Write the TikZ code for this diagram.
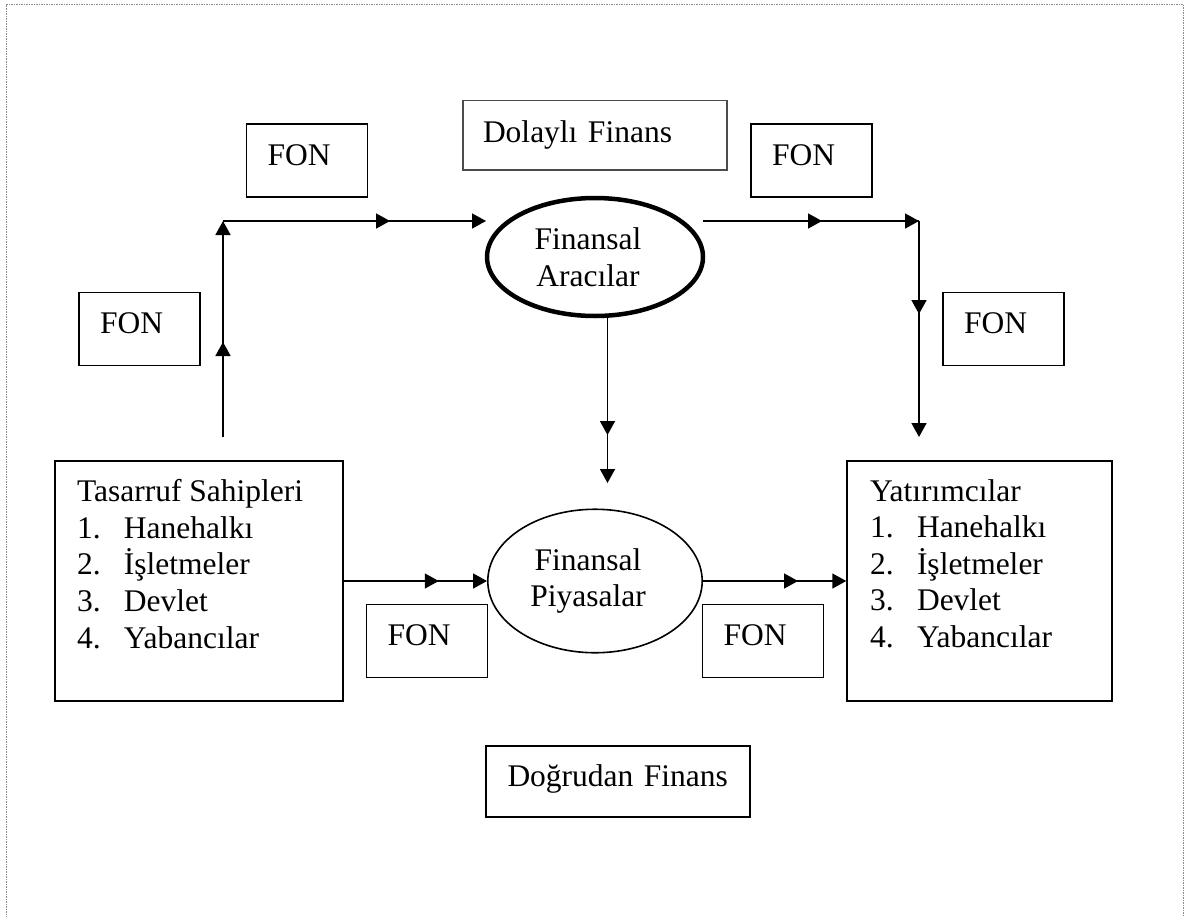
\documentclass[tikz,border=0pt]{standalone}
\usepackage{fontspec}
\setmainfont{Liberation Serif}
\usetikzlibrary{shapes.geometric,arrows.meta,decorations.markings}
\newcommand\fsz{\fontsize{31.5pt}{36.6pt}\selectfont}
\begin{document}
\begin{tikzpicture}[x=1pt,y=-1pt,
  tip/.style={Triangle[length=14pt,width=15pt]},
  conn/.style={line width=1.6pt,-{Triangle[length=14pt,width=15pt]}},
  midarrow/.style={postaction={decorate,decoration={markings,
      mark=at position #1 with {\arrow{Triangle[length=14pt,width=15pt]}}}}},
  fonbox/.style={draw,line width=1.5pt,minimum height=73pt,text width=79pt,
      inner xsep=21pt,inner ysep=0pt,align=left,text height=21pt,text depth=12pt,font=\fsz},
  titlebox/.style={draw,inner ysep=0pt,align=left,text height=21pt,font=\fsz},
  listbox/.style={draw,line width=1.5pt,inner ysep=0pt,font=\fsz},
  ovalnode/.style={ellipse,draw,inner sep=0pt,align=center,font=\fsz},
  border/.style={draw=black!45,line width=1pt,dash pattern=on 1.5pt off 1pt}]
\useasboundingbox (0,0) rectangle (1194,916);
% outer dotted frame
\draw[border] (6.7,920) -- (6.7,4.7) -- (1183.7,4.7) -- (1183.7,920);

% titles
\node[titlebox,draw=black!70,line width=1.2pt,minimum height=69.3pt,text width=224pt,
      inner xsep=20pt,text depth=7.8pt] (dolayli) at (595,135.4) {Dolaylı Finans};
\node[titlebox,line width=1.5pt,minimum height=71pt,text width=221pt,
      inner xsep=21.5pt,text depth=10.6pt] (dogrudan) at (618,781.5) {Doğrudan Finans};

% FON boxes
\node[fonbox] (fon1) at (307,160.5) {FON};
\node[fonbox] (fon2) at (139.5,329) {FON};
\node[fonbox] (fon3) at (811.5,160.5) {FON};
\node[fonbox] (fon4) at (1003.5,329) {FON};
\node[fonbox] (fon5) at (427,641) {FON};
\node[fonbox] (fon6) at (763,641) {FON};

% ellipses
\node[ovalnode,line width=4.5pt,minimum width=216pt,minimum height=118pt] (ara) at (595,257)
  {Finansal\hspace*{14pt}\\Aracılar\hspace*{14pt}};
\node[ovalnode,line width=1.6pt,minimum width=214.4pt,minimum height=143.5pt] (piy) at (595,581)
  {Finansal\hspace*{14pt}\\Piyasalar\hspace*{14pt}};

% list boxes
\node[listbox,inner xsep=22pt] (tas) at (199,581) {%
  \begin{minipage}[c][240pt][t]{244pt}\raggedright
  \rule{0pt}{40.7pt}Tasarruf Sahipleri\\
  \makebox[47pt][l]{1.}Hanehalkı\\
  \makebox[47pt][l]{2.}İşletmeler\\
  \makebox[47pt][l]{3.}Devlet\\
  \makebox[47pt][l]{4.}Yabancılar
  \end{minipage}};
\node[listbox,inner xsep=23pt] (yat) at (979.5,581) {%
  \begin{minipage}[c][240pt][t]{219pt}\raggedright
  \rule{0pt}{40pt}Yatırımcılar\\
  \makebox[47pt][l]{1.}Hanehalkı\\
  \makebox[47pt][l]{2.}İşletmeler\\
  \makebox[47pt][l]{3.}Devlet\\
  \makebox[47pt][l]{4.}Yabancılar
  \end{minipage}};

% connector points
\coordinate (ls) at (223,437);
\coordinate (lc) at (223,221);
\coordinate (la) at (486,221);
\coordinate (rs) at (703,221);
\coordinate (rc) at (919,221);
\coordinate (rb) at (919,437);
\coordinate (ds) at (607.5,316);
\coordinate (de) at (607.5,483);

% connectors
\draw[conn,midarrow=95pt] (ls) -- (lc);
\draw[conn,midarrow=167pt] (lc) -- (la);
\draw[line width=1.6pt,midarrow=119pt,postaction={decorate,decoration={markings,
      mark=at position 1 with {\arrow{Triangle[length=14pt,width=15pt]}}}}] (rs) -- (rc);
\draw[conn,midarrow=93pt] (rc) -- (rb);
\draw[conn,midarrow=119pt] (ds) -- (de);
\draw[conn,midarrow=95pt] (tas.east) -- (piy.west);
\draw[conn,midarrow=95pt] (piy.east) -- (yat.west);
\end{tikzpicture}
\end{document}
